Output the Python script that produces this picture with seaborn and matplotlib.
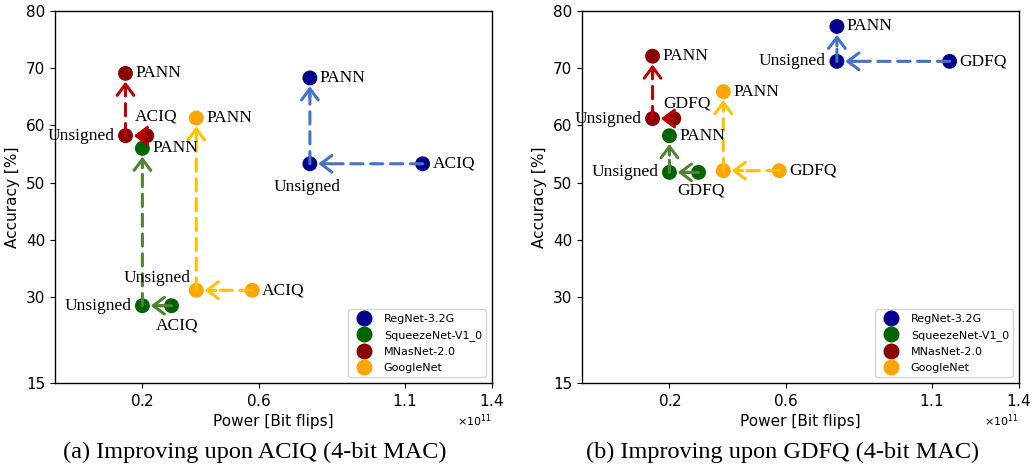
import numpy as np
import pandas as pd
import seaborn as sns
import matplotlib.pyplot as plt
from matplotlib.lines import Line2D
from matplotlib.ticker import ScalarFormatter

# --- data ---
models = ["RegNet-3.2G", "SqueezeNet-V1_0", "MNasNet-2.0", "GoogleNet"]
marker_colors = ["#00008b", "#006400", "#8b0000", "#ffa500"]
arrow_colors = ["#4472c4", "#548235", "#c00000", "#ffc000"]

# power in bit flips (x 1e11); PANN uses the same power as unsigned
baseline_power = [1.162, 0.300, 0.215, 0.577]
unsigned_power = [0.775, 0.200, 0.142, 0.385]

# (a) ACIQ baseline: unsigned keeps baseline accuracy, PANN improves it
aciq_acc = [53.3, 28.5, 58.2, 31.2]
aciq_pann_acc = [68.3, 56.0, 69.1, 61.3]

# (b) GDFQ baseline
gdfq_acc = [71.2, 51.8, 61.2, 52.1]
gdfq_pann_acc = [77.3, 58.2, 72.1, 65.9]

x_ticks = [0.2, 0.6, 1.1, 1.4]
y_ticks = [15, 30, 40, 50, 60, 70, 80]

# label placement: offset in points and horizontal alignment
PLACES = {
    "r": ((7, 0), "left"),
    "l": ((-8, 0), "right"),
    "b": ((-2, -17), "center"),
    "ar": ((7, 14), "center"),
    "br": ((4, -14.5), "center"),
    "al": ((-28, 9), "center"),
    "a": ((9.5, 11), "center"),
    "bb": ((2, -13), "center"),
}

panels = [
    dict(base="ACIQ", base_acc=aciq_acc, pann_acc=aciq_pann_acc, cap_x=0.247,
         caption="(a) Improving upon ACIQ (4-bit MAC)",
         places=[("r", "b", "r"), ("br", "l", "r"), ("ar", "l", "r"), ("r", "al", "r")]),
    dict(base="GDFQ", base_acc=gdfq_acc, pann_acc=gdfq_pann_acc, cap_x=0.758,
         caption="(b) Improving upon GDFQ (4-bit MAC)",
         places=[("r", "l", "r"), ("bb", "l", "r"), ("a", "l", "r"), ("r", None, "r")]),
]

sns.set_theme(style="ticks", rc={
    "axes.edgecolor": "black",
    "axes.linewidth": 1.0,
    "text.color": "black",
    "axes.labelcolor": "black",
    "xtick.color": "black",
    "ytick.color": "black",
    "xtick.major.size": 3.5,
    "ytick.major.size": 3.5,
    "xtick.major.width": 0.8,
    "ytick.major.width": 0.8,
})
plt.rcParams["font.family"] = ["DejaVu Sans"]

fig = plt.figure(figsize=(10.32, 4.73), dpi=100)
axes = [fig.add_axes([0.0533, 0.1903, 0.4234, 0.7865]),
        fig.add_axes([0.564, 0.1903, 0.4234, 0.7865])]

palette = dict(zip(models, marker_colors))
serif = ["Liberation Serif", "DejaVu Serif"]


def dashed_arrow(ax, start, end, color):
    # dashed shaft, then a solid open head touching the target marker
    ax.annotate("", xy=end, xytext=start,
                arrowprops=dict(arrowstyle="-", color=color, lw=2.2,
                                linestyle=(0, (4, 2.5)), shrinkA=0, shrinkB=12),
                zorder=3)
    d = np.sign([start[0] - end[0], start[1] - end[1]])
    ax.annotate("", xy=end, xytext=(d[0] * 14, d[1] * 14), textcoords="offset points",
                arrowprops=dict(arrowstyle="->,head_length=0.4,head_width=0.3",
                                color=color, lw=2.2, shrinkA=0, shrinkB=6,
                                mutation_scale=20),
                zorder=3)


for ax, p in zip(axes, panels):
    rows = []
    for i, m in enumerate(models):
        rows.append((m, p["base"], baseline_power[i] * 1e11, p["base_acc"][i]))
        rows.append((m, "Unsigned", unsigned_power[i] * 1e11, p["base_acc"][i]))
        rows.append((m, "PANN", unsigned_power[i] * 1e11, p["pann_acc"][i]))
    df = pd.DataFrame(rows, columns=["model", "method", "power", "acc"])

    sns.scatterplot(data=df, x="power", y="acc", hue="model", palette=palette,
                    s=115, linewidth=0, legend=False, ax=ax, zorder=2)

    # dashed arrows: baseline -> unsigned -> PANN
    for i in range(len(models)):
        base_pt = (baseline_power[i] * 1e11, p["base_acc"][i])
        uns_pt = (unsigned_power[i] * 1e11, p["base_acc"][i])
        pann_pt = (unsigned_power[i] * 1e11, p["pann_acc"][i])
        dashed_arrow(ax, base_pt, uns_pt, arrow_colors[i])
        dashed_arrow(ax, uns_pt, pann_pt, arrow_colors[i])

    # point labels
    for i in range(len(models)):
        pts = [(baseline_power[i], p["base_acc"][i], p["base"]),
               (unsigned_power[i], p["base_acc"][i], "Unsigned"),
               (unsigned_power[i], p["pann_acc"][i], "PANN")]
        for (x, y, txt), key in zip(pts, p["places"][i]):
            if key is None:
                continue
            off, ha = PLACES[key]
            ax.annotate(txt, (x * 1e11, y), xytext=off, textcoords="offset points",
                        ha=ha, va="center", fontsize=12.5, family=serif, zorder=4)

    ax.set_xlim(-0.1e11, 1.4e11)
    ax.set_ylim(15, 80)
    ax.set_xticks([t * 1e11 for t in x_ticks])
    ax.set_yticks(y_ticks)
    fmt = ScalarFormatter(useMathText=True)
    fmt.set_powerlimits((0, 0))
    ax.xaxis.set_major_formatter(fmt)
    ax.xaxis.get_offset_text().set_fontsize(8)
    ax.tick_params(labelsize=11)
    ax.set_xlabel("Power [Bit flips]", fontsize=11)
    ax.set_ylabel("Accuracy [%]", fontsize=11)

    handles = [Line2D([], [], marker="o", ls="", color=c, markersize=10.5)
               for c in marker_colors]
    ax.legend(handles, models, loc="lower right", fontsize=8, labelspacing=0.55)

    fig.text(p["cap_x"], 0.044, p["caption"], ha="center", va="center",
             fontsize=17.5, family=serif)

fig.savefig("out.png", dpi=100)
